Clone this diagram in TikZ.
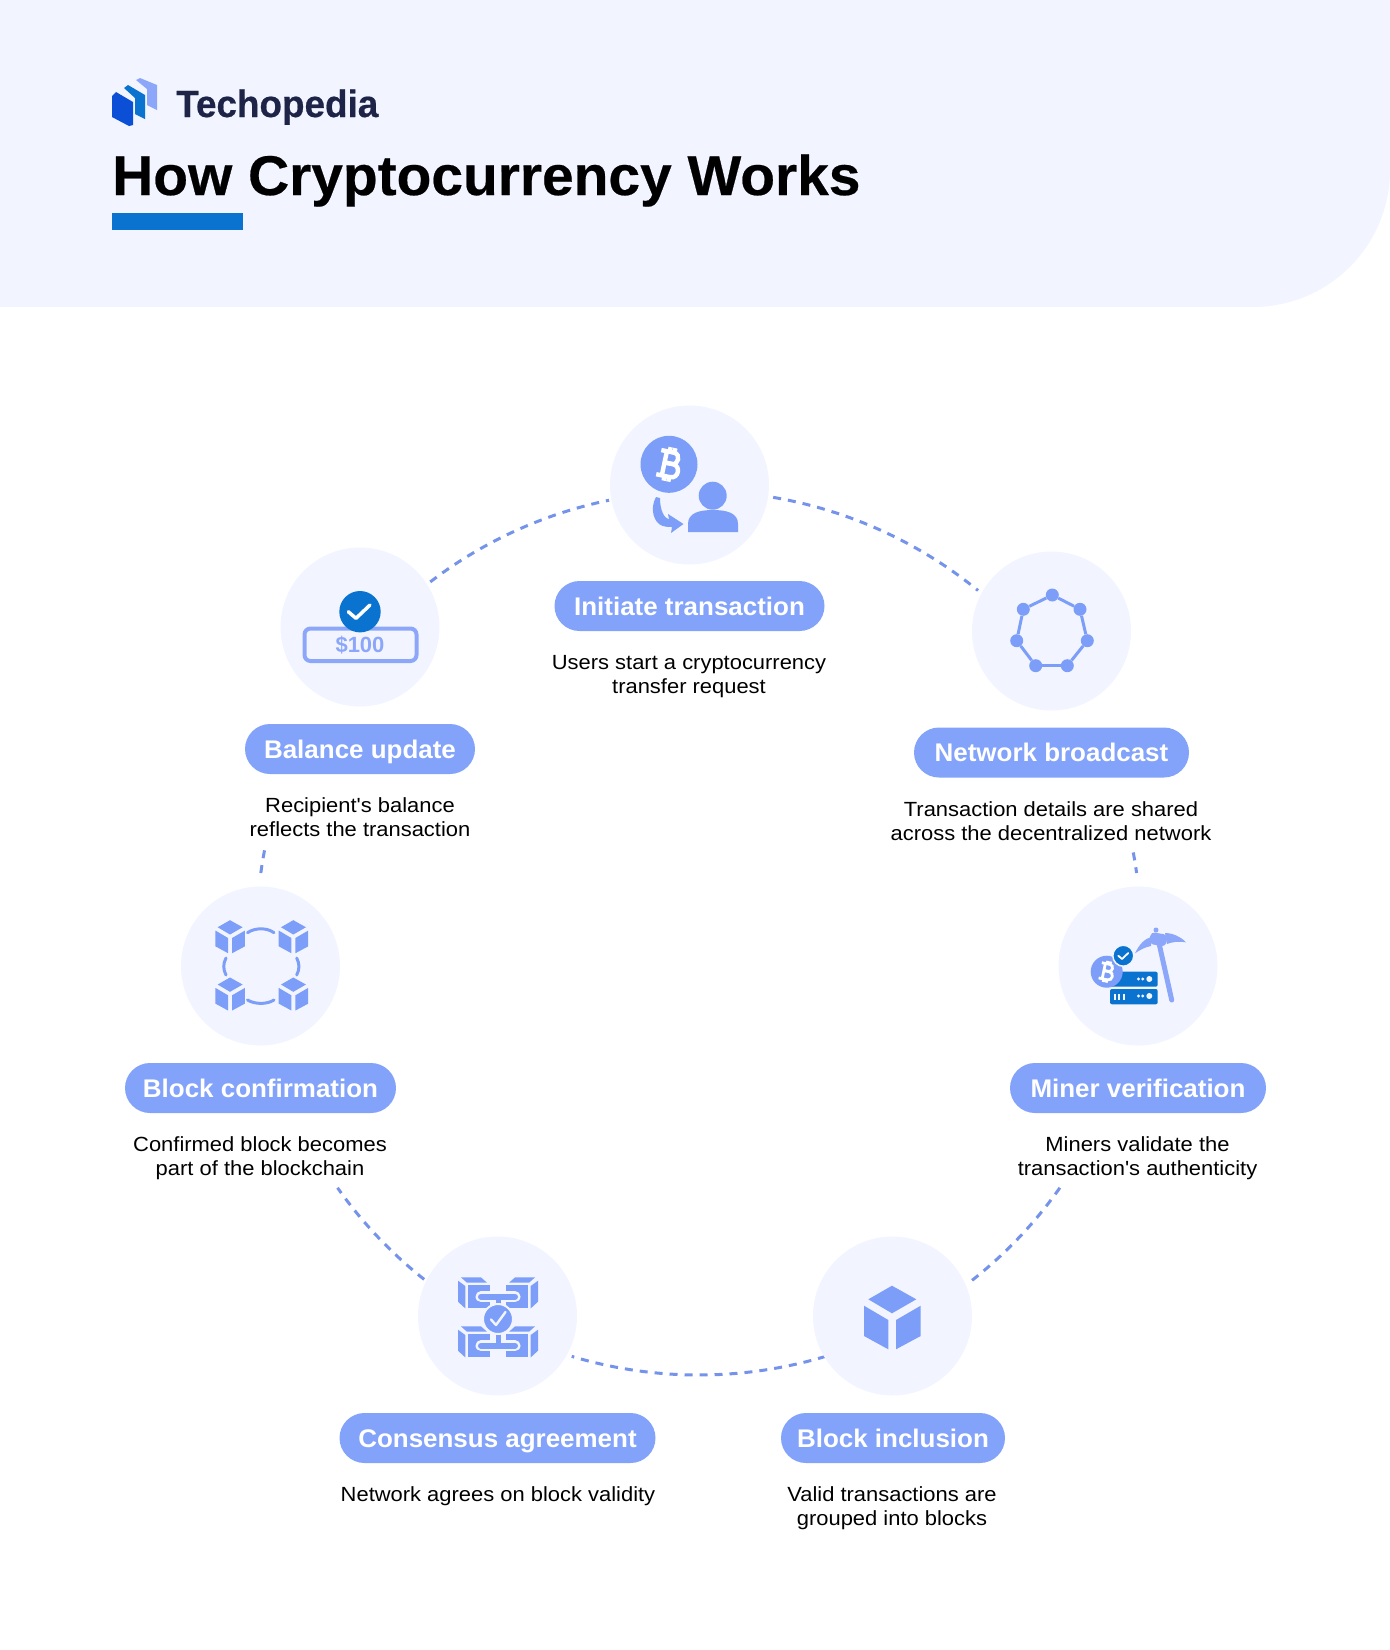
\documentclass[tikz,border=0pt]{standalone}
\usepackage{fontspec}
\usepackage{xcolor}
\setmainfont{Liberation Sans}
\newfontfamily\bodyfont[FakeStretch=1.07]{Liberation Sans}
\newfontfamily\pillfont[FakeStretch=1.018]{Liberation Sans}
\newfontfamily\titlefont[FakeStretch=1.016, FakeBold=0.4]{Liberation Sans Bold}
\newfontfamily\brandfont[FakeStretch=0.97, FakeBold=0.5]{Liberation Sans Bold}
\usetikzlibrary{shapes}

\definecolor{headbg}{HTML}{F2F5FF}
\definecolor{iconblue}{HTML}{7C9EF8}
\definecolor{pillblue}{HTML}{83A3FA}
\definecolor{softblue}{HTML}{8CA7F9}
\definecolor{dashblue}{HTML}{7593EA}
\definecolor{deepblue}{HTML}{0A72CF}
\definecolor{logoblue}{HTML}{0B4FD6}
\definecolor{logoink}{HTML}{1E2447}

% bitcoin sign, drawn in white
\tikzset{btcmark/.pic={
  \draw[white] (-5,14) -- (-5,-14);
  \draw[white] (-11,13) -- (3,13) .. controls (10,13) and (10,1) .. (3,1) -- (-5,1);
  \draw[white] (-5,1) -- (4,1) .. controls (13,1) and (13,-13) .. (4,-13) -- (-11,-13);
  \draw[white] (-2,13) -- (-2,18);
  \draw[white] (3,13) -- (3,18);
  \draw[white] (-2,-13) -- (-2,-18);
  \draw[white] (3,-13) -- (3,-18);
}}
\tikzset{cubemark/.pic={
  \fill (0,31.8) -- (24.3,18.2) -- (0,4.2) -- (-23.7,18.2) -- cycle;
  \fill (-28,11.8) -- (-3.7,-2.5) -- (-3.7,-31.8) -- (-28,-18.5) -- cycle;
  \fill (4,-2.5) -- (28.7,11.8) -- (28.7,-18.5) -- (4,-31.8) -- cycle;
}}
\tikzset{halfcube/.pic={
  \fill (-37,19.3) -- (-17,19.3) -- (-11,14) -- (-31,14) -- cycle;
  \fill (-40,16) -- (-32.7,10.7) -- (-32.7,-11.7) -- (-40,-5) -- cycle;
  \fill (-30.3,11.7) -- (-8.3,11.7) -- (-8.3,-11.7) -- (-30.3,-11.7) -- cycle;
}}

\begin{document}
\begin{tikzpicture}[x=1pt, y=1pt]
\tikzstyle{stepdisc}=[circle, fill=headbg, minimum size=159pt, inner sep=0pt]
\tikzstyle{steppill}=[rounded rectangle, fill=pillblue, text=white, minimum height=50pt, inner sep=0pt, text height=23pt, text depth=5pt, font=\pillfont\bfseries\fontsize{25.5}{30}\selectfont]
\tikzstyle{steptext}=[align=center, inner sep=0pt, text=black, font=\bodyfont\fontsize{20.5}{24.2}\selectfont]
\tikzstyle{ringdash}=[dashblue, line width=3pt, dash pattern=on 8pt off 7pt]
\tikzstyle{netdot}=[circle, fill=iconblue, minimum size=13pt, inner sep=0pt]
\tikzstyle{netline}=[iconblue, line width=3pt]

\useasboundingbox (0,0) rectangle (1390,-1650);

% header
\fill[headbg] (0,0) -- (1390,0) -- (1390,-170) arc[start angle=0, end angle=-90, radius=137pt] -- (0,-307) -- cycle;
\fill[logoblue] (112,-96) -- (116,-92) -- (133,-102) -- (133,-125) -- (129,-126) -- (112,-117) -- cycle;
\fill[deepblue] (124,-88) -- (128,-85) -- (145,-95) -- (145,-119) -- (135,-114) -- (135,-98) -- cycle;
\fill[softblue] (136,-80) -- (140,-78) -- (157,-85) -- (157,-110) -- (147,-105) -- (147,-89) -- cycle;
\node[anchor=base west, inner sep=0pt, text=logoink, font=\brandfont\fontsize{38}{44}\selectfont] (Brand) at (176,-117) {Techopedia};
\node[anchor=base west, inner sep=0pt, text=black, font=\titlefont\fontsize{56}{64}\selectfont] (Title) at (112,-195) {How Cryptocurrency Works};
\fill[deepblue] (112,-213) rectangle (243,-230);

% ring
\coordinate (Ring) at (698.7,-933);
\coordinate (A1) at ([shift={(Ring)}]127.4:442);
\coordinate (A2) at ([shift={(Ring)}]80.3:442);
\coordinate (A3) at ([shift={(Ring)}]10.5:442);
\coordinate (A4) at ([shift={(Ring)}]-35.2:442);
\coordinate (A5) at ([shift={(Ring)}]-73.3:442);
\coordinate (A6) at ([shift={(Ring)}]-128.4:442);
\coordinate (A7) at ([shift={(Ring)}]172.2:442);
\draw[ringdash] (A1) arc[start angle=127.4, end angle=101.7, radius=442pt];
\draw[ringdash] (A2) arc[start angle=80.3, end angle=50.8, radius=442pt];
\draw[ringdash] (A3) arc[start angle=10.5, end angle=7.8, radius=442pt];
\draw[ringdash] (A4) arc[start angle=-35.2, end angle=-52.4, radius=442pt];
\draw[ringdash] (A5) arc[start angle=-73.3, end angle=-106.7, radius=442pt];
\draw[ringdash] (A6) arc[start angle=-128.4, end angle=-144.8, radius=442pt];
\draw[ringdash] (A7) arc[start angle=172.2, end angle=169.2, radius=442pt];

% steps
\node[stepdisc] (C1) at (689.5,-485) {};
\node[steppill, minimum width=270pt] (P1) at (689.5,-606) {Initiate transaction};
\node[steptext] (T1) at (689,-676.6) {Users start a cryptocurrency\\transfer request};
\node[stepdisc] (C2) at (1051.5,-631) {};
\node[steppill, minimum width=275pt] (P2) at (1051.5,-752.5) {Network broadcast};
\node[steptext] (T2) at (1051,-821) {Transaction details are shared\\across the decentralized network};
\node[stepdisc] (C3) at (1138,-966) {};
\node[steppill, minimum width=256pt] (P3) at (1138,-1088) {Miner verification};
\node[steptext] (T3) at (1137.5,-1158) {Miners validate the\\transaction's authenticity};
\node[stepdisc] (C4) at (892.5,-1316) {};
\node[steppill, minimum width=224pt] (P4) at (893,-1438) {Block inclusion};
\node[steptext] (T4) at (892,-1508) {Valid transactions are\\grouped into blocks};
\node[stepdisc] (C5) at (497.5,-1316) {};
\node[steppill, minimum width=316pt] (P5) at (497.5,-1438) {Consensus agreement};
\node[steptext] (T5) at (498,-1496) {Network agrees on block validity};
\node[stepdisc] (C6) at (260.5,-966) {};
\node[steppill, minimum width=271pt] (P6) at (260.5,-1088) {Block confirmation};
\node[steptext] (T6) at (260,-1158) {Confirmed block becomes\\part of the blockchain};
\node[stepdisc] (C7) at (360,-627) {};
\node[steppill, minimum width=230pt] (P7) at (360,-749) {Balance update};
\node[steptext] (T7) at (360,-817) {Recipient's balance\\reflects the transaction};

% icon: initiate
\node[circle, fill=iconblue, minimum size=57pt, inner sep=0pt] (Coin1) at (669,-464.3) {};
\pic[rotate=-12, scale=0.95, line width=4.4pt] (Btc1) at (669,-464.3) {btcmark};
\fill[iconblue] (712.7,-495.7) circle (14);
\fill[iconblue] (688,-532) -- (738,-532) -- (738,-524) .. controls (738,-513) and (727,-510) .. (713,-510) .. controls (699,-510) and (688,-513) .. (688,-524) -- cycle;
\fill[iconblue] (656,-497) .. controls (651,-506) and (652,-518) .. (659,-524) .. controls (663,-527) and (668,-527) .. (672,-527) -- (671,-533) -- (683.5,-524) -- (668,-514) -- (669,-519.5) .. controls (664,-518) and (660,-510) .. (660,-498) -- cycle;

% icon: network
\node[netdot] (N1) at (1052.3,-595) {};
\node[netdot] (N2) at (1080,-609.3) {};
\node[netdot] (N3) at (1087.3,-640.7) {};
\node[netdot] (N4) at (1067.3,-665.7) {};
\node[netdot] (N5) at (1035.7,-665.7) {};
\node[netdot] (N6) at (1016.7,-640.7) {};
\node[netdot] (N7) at (1023.3,-609.3) {};
\draw[netline] (N1) -- (N2);
\draw[netline] (N2) -- (N3);
\draw[netline] (N3) -- (N4);
\draw[netline] (N4) -- (N5);
\draw[netline] (N5) -- (N6);
\draw[netline] (N6) -- (N7);
\draw[netline] (N7) -- (N1);

% icon: miner
\draw[softblue, line width=5pt, line cap=round] (1158.3,-940) -- (1171.7,-1000);
\fill[softblue, rotate around={-10:(1158.3,-939.3)}, rounded corners=4pt] (1149.8,-945.3) rectangle (1166.8,-933.3);
\fill[softblue] (1135,-953.3) .. controls (1139,-945) and (1144,-939) .. (1151,-937) -- (1151,-946) .. controls (1145,-947) and (1140,-950) .. (1135,-953.3) -- cycle;
\fill[softblue] (1165,-933) .. controls (1173,-933) and (1181,-937) .. (1186,-942.3) .. controls (1179,-941) and (1172,-942) .. (1167,-944) -- cycle;
\fill[softblue] (1156,-930) circle (2.5);
\fill[deepblue, rounded corners=2pt] (1110,-971.7) rectangle (1157.7,-986.7);
\fill[deepblue, rounded corners=2pt] (1110,-989) rectangle (1157.7,-1004.3);
\draw[headbg, line width=1.8pt] (1115,-994) -- (1115,-999.5);
\draw[headbg, line width=1.8pt] (1119.3,-994) -- (1119.3,-999.5);
\draw[headbg, line width=1.8pt] (1123.6,-994) -- (1123.6,-999.5);
\fill[headbg] (1138.5,-979) circle (1.6);
\fill[headbg] (1142.8,-979) circle (1.6);
\fill[headbg] (1149.3,-979) circle (3);
\fill[headbg] (1138.5,-996) circle (1.6);
\fill[headbg] (1142.8,-996) circle (1.6);
\fill[headbg] (1149.3,-996) circle (3);
\node[circle, fill=iconblue, minimum size=32pt, inner sep=0pt] (Coin3) at (1106.7,-971.7) {};
\pic[rotate=-12, scale=0.6, line width=2.8pt] (Btc3) at (1106.7,-971.7) {btcmark};
\node[circle, fill=deepblue, draw=headbg, line width=1.5pt, minimum size=21pt, inner sep=0pt] (Tick3) at (1123.3,-955.7) {};
\draw[white, line width=1.8pt, line cap=round, line join=round] (1118.3,-955.7) -- (1122,-959) -- (1128.3,-953);

% icon: block inclusion
\pic[iconblue] (Cube4) at (892,-1317.5) {cubemark};

% icon: consensus
\pic[iconblue] (Half1) at (498,-1296.7) {halfcube};
\pic[iconblue, xscale=-1] (Half2) at (498,-1296.7) {halfcube};
\pic[iconblue] (Half3) at (498,-1345.7) {halfcube};
\pic[iconblue, xscale=-1] (Half4) at (498,-1345.7) {halfcube};
\draw[headbg, line width=11pt, line cap=round] (481,-1296.7) -- (515,-1296.7);
\draw[headbg, line width=11pt, line cap=round] (481,-1345.7) -- (515,-1345.7);
\draw[iconblue, line width=6pt, line cap=round] (481,-1296.7) -- (515,-1296.7);
\draw[iconblue, line width=6pt, line cap=round] (481,-1345.7) -- (515,-1345.7);
\draw[iconblue, line width=5pt] (498,-1296.7) -- (498,-1345.7);
\node[circle, fill=iconblue, draw=headbg, line width=2pt, minimum size=30pt, inner sep=0pt] (Tick5) at (498,-1319) {};
\draw[headbg, line width=2.4pt, line cap=round, line join=round] (491,-1319.5) -- (496,-1325) -- (505.5,-1312);

% icon: block confirmation
\pic[iconblue, scale=0.52] (Cube1) at (230,-936.7) {cubemark};
\pic[iconblue, scale=0.52] (Cube2) at (293.3,-936.7) {cubemark};
\pic[iconblue, scale=0.52] (Cube3) at (230,-994) {cubemark};
\pic[iconblue, scale=0.52] (Cube5) at (293.3,-994) {cubemark};
\draw[iconblue, line width=3pt, line cap=round] (247.5,-932.7) .. controls (255,-927.5) and (267,-927.5) .. (274,-932.7);
\draw[iconblue, line width=3pt, line cap=round] (247.5,-1000) .. controls (255,-1004.5) and (267,-1004.5) .. (274,-1000);
\draw[iconblue, line width=3pt, line cap=round] (226,-958) .. controls (223,-964) and (223,-969) .. (226,-975);
\draw[iconblue, line width=3pt, line cap=round] (296.7,-958) .. controls (299.7,-964) and (299.7,-969) .. (296.7,-975);

% icon: balance
\draw[softblue, line width=4pt, rounded corners=6pt] (304.5,-628.5) rectangle (416.5,-661);
\node[text=softblue, inner sep=0pt, font=\bfseries\fontsize{22}{24}\selectfont] (Amount) at (360,-645) {\$100};
\node[circle, fill=deepblue, minimum size=41.4pt, inner sep=0pt] (Tick7) at (360,-611.7) {};
\draw[white, line width=3.5pt, line cap=round, line join=round] (348.3,-611.7) -- (356,-618.3) -- (370,-605);
\end{tikzpicture}
\end{document}
